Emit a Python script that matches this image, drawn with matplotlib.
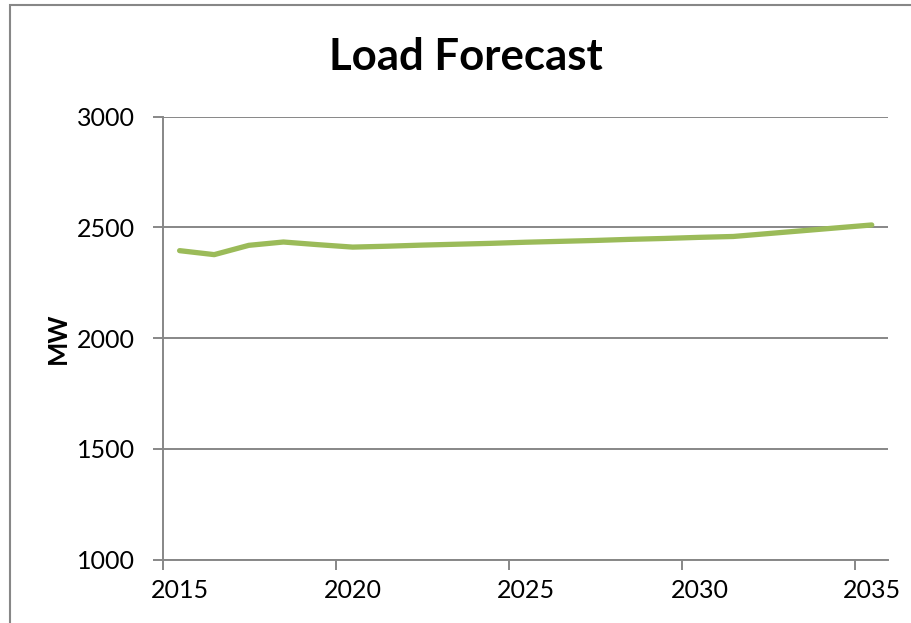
import matplotlib.pyplot as plt
from matplotlib.patches import Rectangle

# yearly load forecast (points sit at mid-year)
years = [2015, 2016, 2017, 2018, 2019, 2020, 2021, 2022, 2023, 2024, 2025,
         2026, 2027, 2028, 2029, 2030, 2031, 2032, 2033, 2034, 2035]
load_mw = [2395, 2377, 2419, 2434, 2422, 2411, 2415, 2420, 2424, 2428, 2433,
           2437, 2441, 2446, 2450, 2455, 2459, 2472, 2485, 2498, 2511]
x_ticks = [2015, 2020, 2025, 2030, 2035]
y_ticks = [1000, 1500, 2000, 2500, 3000]

plt.rcParams['font.family'] = ['Lato', 'DejaVu Sans']
grey = '#878787'

fig = plt.figure(figsize=(9.11, 6.23), dpi=100)
ax = fig.add_axes([163 / 911, 1 - 559.5 / 623, 725 / 911, 442.8 / 623])

x = [y + 0.48 for y in years]
ax.plot(x, load_mw, color='#9BBB59', lw=3.8, solid_capstyle='round', zorder=3)

ax.set_xlim(2015, 2035.95)
ax.set_ylim(1000, 3000)
# tick marks at the year, labels centred on mid-year (like the original)
ax.set_xticks(x_ticks)
ax.set_xticklabels([])
ax.set_xticks([t + 0.5 for t in x_ticks], [str(t) for t in x_ticks], minor=True)
ax.tick_params(axis='x', which='minor', length=0, labelsize=18, pad=14)
ax.set_yticks(y_ticks)
ax.grid(axis='y', color=grey, lw=1.4)
ax.set_axisbelow(True)
for s in ['top', 'right']:
    ax.spines[s].set_visible(False)
for s in ['left', 'bottom']:
    ax.spines[s].set_color(grey)
    ax.spines[s].set_linewidth(1.4)
ax.tick_params(axis='both', which='major', colors=grey, width=1.4, length=7,
               labelcolor='black', labelsize=18)
ax.tick_params(axis='y', pad=13)

ax.set_ylabel('MW', fontsize=18.5, fontweight='bold', labelpad=5)
fig.text(466 / 911, 1 - 57 / 623, 'Load Forecast', fontsize=31.5, fontweight='bold',
         ha='center', va='center')

# chart area border (cropped on right and bottom)
fig.patches.append(Rectangle((9.5 / 911, -0.05), 1.0, 1 - 5 / 623 + 0.05,
                             transform=fig.transFigure, fill=False,
                             edgecolor=grey, lw=1.5))

fig.savefig('out.png', dpi=100)
